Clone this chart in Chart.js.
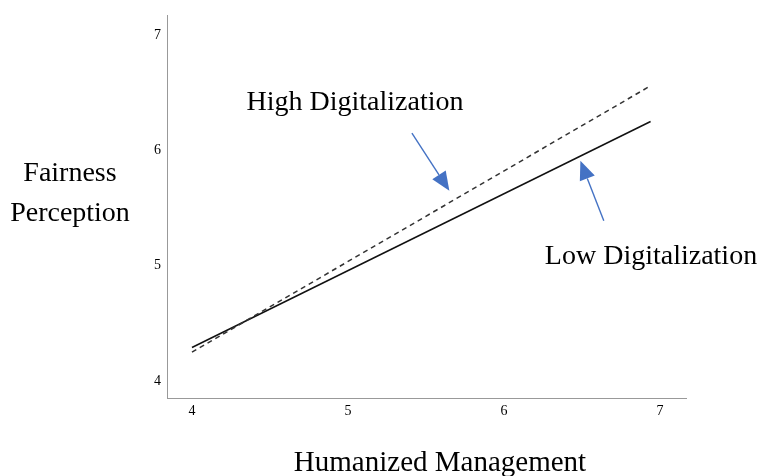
<!DOCTYPE html>
<html>
<head>
<meta charset="utf-8">
<script src="https://cdn.jsdelivr.net/npm/chart.js@4"></script>
<style>
  html, body { margin: 0; padding: 0; background: #fff; }
  #wrap { width: 763px; height: 476px; }
</style>
</head>
<body>
<div id="wrap"><canvas id="slopeChart" width="763" height="476"></canvas></div>
<script>
// simple slopes
const humanized = [4, 6.94];
const highDigital = [4.25, 6.56];
const lowDigital = [4.29, 6.25];
const xTicks = [4, 5, 6, 7];
const yTicks = [4, 5, 6, 7];

// arrows pointing at the lines (tail -> tip, in data units)
const arrows = [
    { from: [5.41, 6.15], to: [5.65, 5.65] },
    { from: [6.64, 5.39], to: [6.49, 5.91] }
];

const serif = '"Liberation Serif", "Times New Roman", serif';

const labelPlugin = {
    id: 'labels',
    afterDraw(chart) {
        const ctx = chart.ctx;
        const xs = chart.scales.x, ys = chart.scales.y;
        ctx.save();
        // arrows
        ctx.strokeStyle = '#4472C4';
        ctx.fillStyle = '#4472C4';
        ctx.lineWidth = 1.4;
        arrows.forEach(a => {
            const x1 = xs.getPixelForValue(a.from[0]), y1 = ys.getPixelForValue(a.from[1]);
            const x2 = xs.getPixelForValue(a.to[0]), y2 = ys.getPixelForValue(a.to[1]);
            const ang = Math.atan2(y2 - y1, x2 - x1);
            const len = 19, half = 8;
            const bx = x2 - len * Math.cos(ang), by = y2 - len * Math.sin(ang);
            ctx.beginPath();
            ctx.moveTo(x1, y1);
            ctx.lineTo(bx, by);
            ctx.stroke();
            ctx.beginPath();
            ctx.moveTo(x2, y2);
            ctx.lineTo(bx + half * Math.sin(ang), by - half * Math.cos(ang));
            ctx.lineTo(bx - half * Math.sin(ang), by + half * Math.cos(ang));
            ctx.closePath();
            ctx.fill();
        });
        // texts
        ctx.fillStyle = '#000';
        ctx.textAlign = 'center';
        ctx.textBaseline = 'middle';
        ctx.font = '28px ' + serif;
        ctx.fillText('High Digitalization', 355, 103);
        ctx.fillText('Low Digitalization', 651, 257);
        ctx.fillText('Fairness', 70, 174);
        ctx.fillText('Perception', 70, 214);
        ctx.font = '29px ' + serif;
        ctx.fillText('Humanized Management', 440, 463);
        ctx.restore();
    }
};

new Chart(document.getElementById('slopeChart'), {
    type: 'scatter',
    data: {
        datasets: [{
            label: 'High Digitalization',
            data: humanized.map((x, i) => ({ x: x, y: highDigital[i] })),
            showLine: true,
            borderColor: '#333',
            borderWidth: 1.5,
            borderDash: [5, 4],
            pointRadius: 0
        }, {
            label: 'Low Digitalization',
            data: humanized.map((x, i) => ({ x: x, y: lowDigital[i] })),
            showLine: true,
            borderColor: '#111',
            borderWidth: 1.5,
            pointRadius: 0
        }]
    },
    plugins: [labelPlugin],
    options: {
        responsive: false,
        animation: false,
        layout: { padding: { left: 0, top: 15, right: 77, bottom: 0 } },
        plugins: { legend: { display: false }, tooltip: { enabled: false } },
        scales: {
            x: {
                type: 'linear',
                min: 3.84,
                max: 7.167,
                afterFit: s => { s.height = 78; },
                afterBuildTicks: s => { s.ticks = xTicks.map(v => ({ value: v })); },
                grid: { display: false, drawTicks: false },
                border: { color: '#999', width: 1 },
                ticks: { padding: 5, color: '#000', font: { family: serif, size: 14 } }
            },
            y: {
                min: 3.852,
                max: 7.174,
                afterFit: s => { s.width = 167; },
                afterBuildTicks: s => { s.ticks = yTicks.map(v => ({ value: v })); },
                grid: { display: false, drawTicks: false },
                border: { color: '#999', width: 1 },
                ticks: { padding: 6, color: '#000', font: { family: serif, size: 14 } }
            }
        }
    }
});
</script>
</body>
</html>
